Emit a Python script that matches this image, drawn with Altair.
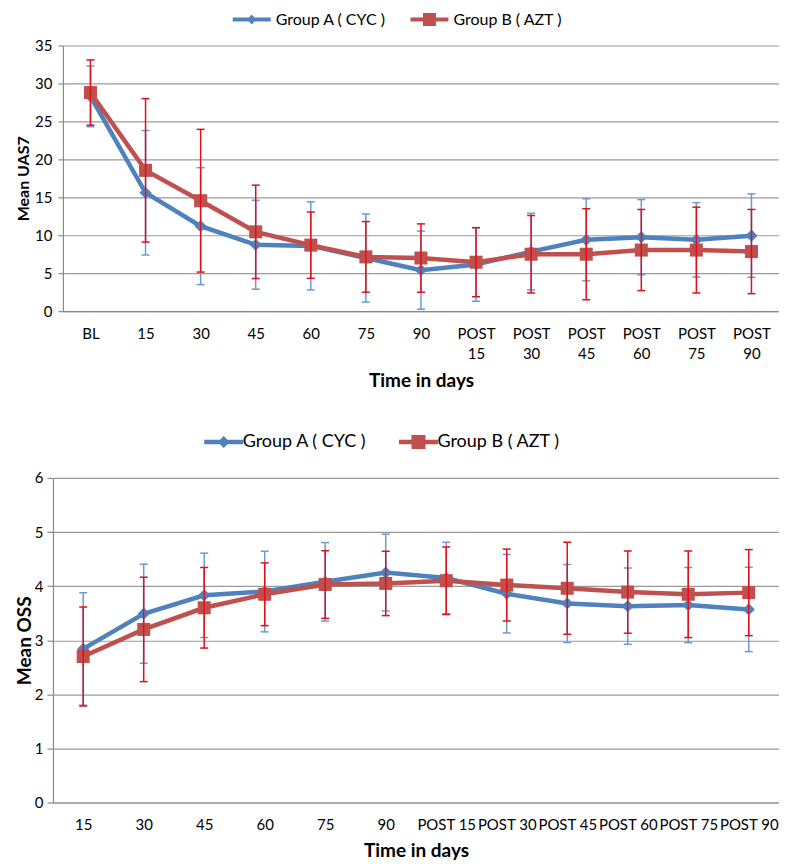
import altair as alt
import pandas as pd

# ---------------- data ----------------
groups = ["Group A ( CYC )", "Group B ( AZT )"]

days_uas = ["BL", "15", "30", "45", "60", "75", "90",
            "POST 15", "POST 30", "POST 45", "POST 60", "POST 75", "POST 90"]
uas_a_mean = [28.3, 15.6, 11.2, 8.75, 8.6, 7.0, 5.4, 6.15, 7.85, 9.4, 9.75, 9.4, 9.95]
uas_a_sd = [4.0, 8.2, 7.7, 5.85, 5.8, 5.8, 5.15, 4.85, 5.05, 5.4, 4.95, 4.9, 5.5]
uas_b_mean = [28.8, 18.55, 14.55, 10.45, 8.7, 7.15, 7.0, 6.45, 7.5, 7.5, 8.05, 8.05, 7.85]
uas_b_sd = [4.3, 9.45, 9.4, 6.15, 4.37, 4.65, 4.5, 4.55, 5.1, 6.0, 5.35, 5.65, 5.55]

days_oss = ["15", "30", "45", "60", "75", "90",
            "POST 15", "POST 30", "POST 45", "POST 60", "POST 75", "POST 90"]
oss_a_mean = [2.84, 3.49, 3.83, 3.90, 4.08, 4.25, 4.15, 3.86, 3.68, 3.63, 3.65, 3.57]
oss_a_sd = [1.04, 0.915, 0.78, 0.745, 0.725, 0.71, 0.66, 0.725, 0.72, 0.705, 0.695, 0.78]
oss_b_mean = [2.70, 3.20, 3.60, 3.85, 4.03, 4.05, 4.10, 4.02, 3.96, 3.89, 3.85, 3.88]
oss_b_sd = [0.915, 0.965, 0.745, 0.58, 0.625, 0.595, 0.625, 0.665, 0.85, 0.76, 0.80, 0.795]

# ---------------- style ----------------
FONT = "Lato"
BLUE = "#4F81BD"
RED = "#C0504D"
BLUE_ERR = "#6A9AD6"
RED_ERR = "#E0101A"
GRID = "#9A9A9A"
AXIS = "#8A8A8A"


def build_df(days, a_mean, a_sd, b_mean, b_sd):
    rows = []
    for g, means, sds in [(groups[0], a_mean, a_sd), (groups[1], b_mean, b_sd)]:
        for d, m, s in zip(days, means, sds):
            rows.append({"day": d, "group": g, "mean": m, "lo": m - s, "hi": m + s})
    return pd.DataFrame(rows)


def legend_paths(half_len, half_thick, dia_w, dia_h, sq):
    line = f"M{-half_len},{-half_thick}L{half_len},{-half_thick}L{half_len},{half_thick}L{-half_len},{half_thick}Z"
    dia = f"M0,{-dia_h}L{dia_w},0L0,{dia_h}L{-dia_w},0Z"
    sqp = f"M{-sq},{-sq}L{sq},{-sq}L{sq},{sq}L{-sq},{sq}Z"
    return [line + " " + dia, line + " " + sqp]


def panel(df, days, ymax, ystep, ytitle, ytitle_size, width, height,
          two_line, leg, label_pad, title_pad, ytitle_pad, ylabel_pad, tick_size):
    label_expr = "split(datum.label, ' ')" if two_line else "datum.label"
    x_enc = alt.X(
        "day:N", sort=days,
        scale=alt.Scale(type="point", padding=0.5),
        axis=alt.Axis(
            title="Time in days", titleFont=FONT, titleFontSize=19, titleFontWeight="bold",
            titleColor="black", titlePadding=title_pad,
            labelFont=FONT, labelFontSize=15, labelColor="black", labelAngle=0,
            labelExpr=label_expr, labelLineHeight=20, labelPadding=label_pad,
            labelBaseline="top",
            ticks=False, domain=True, domainColor=AXIS, domainWidth=1.2, grid=False,
        ),
    )
    y_scale = alt.Scale(domain=[0, ymax], nice=False, zero=True)
    y_axis = alt.Axis(
        title=ytitle, titleFont=FONT, titleFontSize=ytitle_size, titleFontWeight="bold",
        titleColor="black", titlePadding=ytitle_pad,
        values=list(range(0, ymax + 1, ystep)),
        labelFont=FONT, labelFontSize=15, labelColor="black", labelPadding=ylabel_pad,
        grid=True, gridColor=GRID, gridWidth=1.2,
        domain=True, domainColor=AXIS, domainWidth=1.2,
        ticks=True, tickColor=AXIS, tickSize=tick_size, tickWidth=1.2,
    )
    base = alt.Chart(df)

    layers = []
    specs = [
        (groups[0], BLUE, BLUE_ERR, "diamond", 150),
        (groups[1], RED, RED_ERR, "square", 170),
    ]
    for g, col, ecol, shp, sz in specs:
        sub = base.transform_filter(alt.datum.group == g)
        layers.append(sub.mark_line(strokeWidth=4.5, color=col).encode(
            x=x_enc, y=alt.Y("mean:Q", scale=y_scale, axis=y_axis)))
        layers.append(sub.mark_point(filled=True, shape=shp, size=sz, opacity=1, color=col).encode(
            x=x_enc, y=alt.Y("mean:Q", scale=y_scale, axis=y_axis)))
        layers.append(sub.mark_rule(strokeWidth=1.5, color=ecol).encode(
            x=x_enc, y=alt.Y("lo:Q", scale=y_scale, axis=y_axis), y2="hi:Q"))
        layers.append(sub.mark_tick(size=8, thickness=1.5, color=ecol, opacity=1).encode(
            x=x_enc, y=alt.Y("lo:Q", scale=y_scale, axis=y_axis)))
        layers.append(sub.mark_tick(size=8, thickness=1.5, color=ecol, opacity=1).encode(
            x=x_enc, y=alt.Y("hi:Q", scale=y_scale, axis=y_axis)))

    legend = alt.Legend(
        title=None, orient="none", direction="horizontal",
        legendX=leg["x"], legendY=leg["y"],
        labelFont=FONT, labelFontSize=leg["font"], labelColor="black",
        labelOffset=leg["offset"], columnPadding=leg["colpad"],
        symbolSize=196, symbolStrokeWidth=0, symbolOpacity=1, padding=0,
    )
    leg_layer = base.transform_filter("datum.mean < -1000").mark_point(
        filled=True, size=196).encode(
        x=x_enc, y=alt.Y("mean:Q", scale=y_scale, axis=y_axis),
        color=alt.Color("group:N", scale=alt.Scale(domain=groups, range=[BLUE, RED]), legend=legend),
        shape=alt.Shape("group:N", scale=alt.Scale(domain=groups, range=leg["paths"]), legend=legend),
    )
    layers.append(leg_layer)
    return alt.layer(*layers).properties(width=width, height=height)


def spacer():
    # invisible 1px cell so that each row is aligned on its left-most text, not on its plot area
    return alt.Chart(pd.DataFrame({"v": [0]})).mark_point(opacity=0).encode(
        x=alt.X("v:Q", axis=None), y=alt.Y("v:Q", axis=None)
    ).properties(width=1, height=1)


df_uas = build_df(days_uas, uas_a_mean, uas_a_sd, uas_b_mean, uas_b_sd)
df_oss = build_df(days_oss, oss_a_mean, oss_a_sd, oss_b_mean, oss_b_sd)

top = panel(
    df_uas, days_uas, 35, 5, "Mean UAS7", 16, 717, 266, True,
    {"x": 233, "y": -34, "font": 16, "offset": 16, "colpad": 24,
     "paths": legend_paths(2.71, 0.29, 0.64, 0.72, 0.93)},
    label_pad=15, title_pad=10, ytitle_pad=3, ylabel_pad=6, tick_size=5,
)
bottom = panel(
    df_oss, days_oss, 6, 1, "Mean OSS", 19, 727, 325, False,
    {"x": 204, "y": -45, "font": 18, "offset": 10, "colpad": 31,
     "paths": legend_paths(2.79, 0.32, 0.86, 0.86, 1.0)},
    label_pad=15, title_pad=9, ytitle_pad=0, ylabel_pad=4, tick_size=6,
)

row_top = alt.hconcat(spacer(), top, spacing=0)
row_bottom = alt.hconcat(spacer(), bottom, spacing=0)

chart = alt.vconcat(row_top, row_bottom, spacing=43).resolve_scale(
    color="independent", shape="independent"
).resolve_legend(color="independent", shape="independent").properties(
    padding={"left": 0, "top": 3, "right": 0, "bottom": 0}
).configure_view(strokeWidth=0)

chart.save("out.html", embed_options={"renderer": "svg", "actions": False})
